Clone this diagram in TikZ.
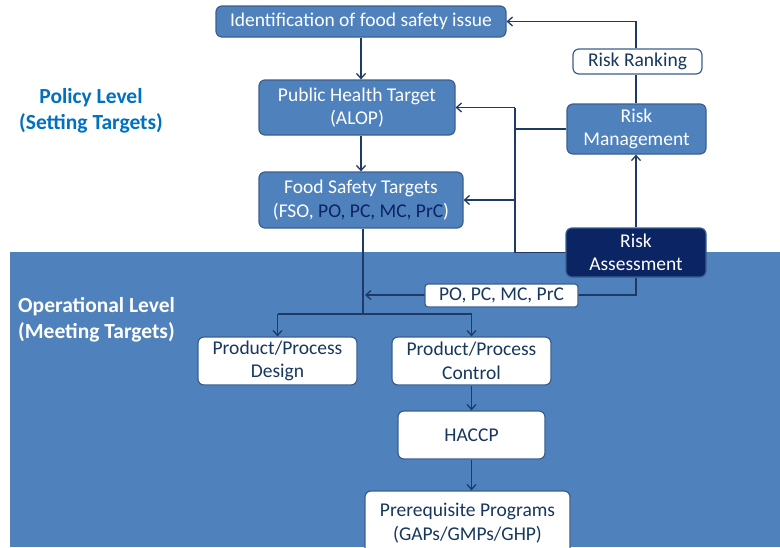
\documentclass[tikz,border=0pt]{standalone}
\usepackage{fontspec}
\setmainfont{Carlito}
\usetikzlibrary{arrows.meta}
\definecolor{midblue}{HTML}{4F81BD}
\definecolor{edgeblue}{HTML}{3A5F8E}
\definecolor{navy}{HTML}{0B2463}
\definecolor{linenavy}{HTML}{1F3A66}
\definecolor{textnavy}{HTML}{17375E}
\definecolor{titleblue}{HTML}{0070C0}
\tikzset{
  box/.style={draw=edgeblue, line width=1.2pt, rounded corners=6pt, fill=midblue,
    text=white, align=center, inner sep=0pt,
    font=\fontsize{19.5}{23.5}\selectfont},
  whitebox/.style={box, fill=white, text=textnavy},
  darkbox/.style={box, fill=navy, draw=edgeblue},
  conn/.style={draw=linenavy, line width=1.3pt},
  arr/.style={conn, -{Straight Barb[length=5pt,width=9pt]}},
  lvl/.style={font=\fontsize{21.5}{26}\selectfont\bfseries, align=center, inner sep=0pt}
}
\begin{document}
\begin{tikzpicture}[x=1pt,y=-1pt]
\useasboundingbox (0,0) rectangle (780,547);
\clip (0,0) rectangle (780,547);
% operational band
\fill[midblue] (10,252) rectangle (780,547);

% level captions
\node[lvl, text=titleblue] (policy) at (91,111) {Policy Level\\(Setting Targets)};
\node[lvl, text=white, align=left, anchor=west] (oper) at (18,320) {Operational Level\\(Meeting Targets)};

% policy-level boxes
\node[box, minimum width=290pt, minimum height=31pt] (issue) at (361,21.5) {Identification of food safety issue};
\node[box, minimum width=196pt, minimum height=55pt] (pht) at (357,107.5) {Public Health Target\\(ALOP)};
\node[box, minimum width=204pt, minimum height=56pt] (fst) at (361,200) {Food Safety Targets\\(FSO, \textcolor{navy}{PO, PC, MC, PrC})};
\node[whitebox, minimum width=129pt, minimum height=25pt] (rank) at (637.5,61.5) {Risk Ranking};
\node[box, minimum width=139pt, minimum height=50pt] (rm) at (636.5,129) {Risk\\Management};
\node[darkbox, minimum width=140pt, minimum height=49pt] (ra) at (636,252.5) {Risk\\Assessment};

% operational-level boxes
\node[whitebox, minimum width=159pt, minimum height=48pt] (design) at (277.5,361) {Product/Process\\Design};
\node[whitebox, minimum width=159pt, minimum height=48pt] (control) at (471.5,361) {Product/Process\\Control};
\node[whitebox, minimum width=147pt, minimum height=48pt] (haccp) at (471.5,435) {HACCP};
\node[whitebox, minimum width=205pt, minimum height=64pt] (prp) at (467.5,523) {Prerequisite Programs\\(GAPs/GMPs/GHP)};

% helper points
\coordinate (jx) at (515,107.5);
\coordinate (split) at (363,314);

% top chain
\draw[arr] (issue.south -| 361,0) -- (pht.north -| 361,0);
\draw[arr] (pht.south -| 361,0) -- (fst.north -| 361,0);

% risk ranking feedback to the issue
\draw[conn] (rm.north -| 636,0) -- (rank.south -| 636,0);
\draw[arr] (rank.north -| 636,0) -- (636,21.5) -- (issue.east);

% risk assessment feeds risk management
\draw[arr] (ra.north -| 636,0) -- (rm.south -| 636,0);

% management / assessment to the targets
\draw[conn] (rm.west) -- (515,129);
\draw[conn] (ra.west) -- (515,252.5) -- (jx);
\draw[arr] (jx) -- (pht.east);
\draw[arr] (515,200) -- (fst.east);

% assessment outputs to operational level
\draw[arr] (ra.south -| 636,0) -- (636,295) -- (365,295);
\node[whitebox, rounded corners=3pt, minimum width=153pt, minimum height=23pt] (metrics) at (501.5,295.5) {PO, PC, MC, PrC};

% targets down to the operational boxes
\draw[conn] (fst.south -| 363,0) -- (split);
\draw[conn] (277.5,314) -- (471.5,314);
\draw[arr] (277.5,314) -- (design.north);
\draw[arr] (471.5,314) -- (control.north);
\draw[arr] (control.south) -- (haccp.north);
\draw[arr] (haccp.south) -- (prp.north -| haccp.south);
\end{tikzpicture}
\end{document}
